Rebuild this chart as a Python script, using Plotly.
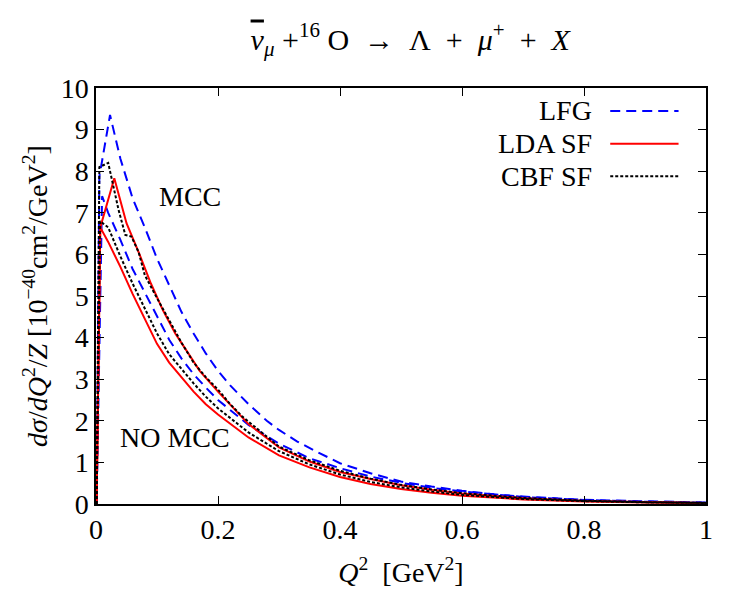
import plotly.graph_objects as go

# ---------------- data ----------------
series_names = ["LFG", "LDA SF", "CBF SF"]

# LFG (blue dashed)
lfg_mcc_x = [0.001, 0.0055, 0.023, 0.04, 0.06, 0.08, 0.10, 0.12, 0.14, 0.16, 0.18, 0.20, 0.22, 0.25,
             0.28, 0.30, 0.33, 0.36, 0.40, 0.45, 0.50, 0.55, 0.60, 0.66, 0.70, 0.80, 0.90, 1.00]
lfg_mcc_y = [0.0, 7.87, 9.35, 8.3, 7.35, 6.65, 5.9, 5.25, 4.62, 4.1, 3.62, 3.2, 2.85, 2.4,
             2.0, 1.78, 1.5, 1.27, 0.98, 0.74, 0.54, 0.42, 0.32, 0.22, 0.18, 0.10, 0.06, 0.035]

lfg_nomcc_x = [0.001, 0.01, 0.02, 0.04, 0.06, 0.08, 0.10, 0.12, 0.14, 0.16, 0.18, 0.20, 0.25, 0.30,
               0.35, 0.40, 0.45, 0.50, 0.55, 0.60, 0.70, 0.80, 0.90, 1.00]
lfg_nomcc_y = [0.0, 7.4, 7.0, 6.35, 5.65, 5.08, 4.5, 3.95, 3.5, 3.12, 2.8, 2.5, 1.9, 1.45,
               1.1, 0.86, 0.66, 0.51, 0.39, 0.30, 0.17, 0.095, 0.055, 0.03]

# LDA SF (red solid)
lda_mcc_x = [0.001, 0.007, 0.03, 0.05, 0.07, 0.09, 0.11, 0.13, 0.15, 0.17, 0.20, 0.25, 0.30,
             0.35, 0.40, 0.45, 0.50, 0.55, 0.60, 0.70, 0.80, 0.90, 1.00]
lda_mcc_y = [0.0, 6.65, 7.83, 6.75, 6.05, 5.3, 4.65, 4.1, 3.65, 3.2, 2.7, 1.92, 1.36,
             1.02, 0.77, 0.6, 0.45, 0.34, 0.25, 0.14, 0.075, 0.042, 0.022]

lda_nomcc_x = [0.001, 0.007, 0.02, 0.04, 0.06, 0.08, 0.10, 0.12, 0.14, 0.16, 0.18, 0.20, 0.25, 0.30,
               0.35, 0.40, 0.45, 0.50, 0.55, 0.60, 0.70, 0.80, 0.90, 1.00]
lda_nomcc_y = [0.0, 6.65, 6.3, 5.7, 5.05, 4.45, 3.85, 3.4, 3.05, 2.7, 2.4, 2.15, 1.6, 1.17,
               0.88, 0.65, 0.48, 0.36, 0.27, 0.20, 0.11, 0.06, 0.035, 0.02]

# CBF SF (black dotted)
cbf_mcc_x = [0.001, 0.0055, 0.02, 0.037, 0.048, 0.058, 0.07, 0.08, 0.10, 0.12, 0.14, 0.16, 0.18, 0.20,
             0.22, 0.24, 0.27, 0.30, 0.35, 0.40, 0.45, 0.50, 0.55, 0.60, 0.70, 0.80, 0.90, 1.00]
cbf_mcc_y = [0.0, 8.1, 8.2, 7.07, 6.47, 6.43, 6.05, 5.5, 4.95, 4.4, 3.88, 3.4, 3.05, 2.75,
             2.4, 2.1, 1.75, 1.38, 1.05, 0.8, 0.61, 0.46, 0.35, 0.26, 0.145, 0.08, 0.045, 0.027]

cbf_nomcc_x = [0.001, 0.0066, 0.02, 0.04, 0.06, 0.08, 0.10, 0.12, 0.14, 0.16, 0.18, 0.20, 0.25, 0.30,
               0.35, 0.40, 0.45, 0.50, 0.55, 0.60, 0.70, 0.80, 0.90, 1.00]
cbf_nomcc_y = [0.0, 6.8, 6.65, 5.95, 5.3, 4.7, 4.1, 3.6, 3.25, 2.9, 2.58, 2.3, 1.72, 1.27,
               0.95, 0.71, 0.53, 0.40, 0.30, 0.22, 0.12, 0.07, 0.04, 0.025]

x_tick_vals = [0, 0.2, 0.4, 0.6, 0.8, 1.0]
x_tick_text = ["0", "0.2", "0.4", "0.6", "0.8", "1"]
y_tick_vals = list(range(0, 11))

# ---------------- styling ----------------
FONT = "Liberation Serif, DejaVu Serif, serif"
FS = 28
styles = {
    "LFG": dict(color="#0000ff", width=2, dash="10px,6px"),
    "LDA SF": dict(color="#ff0000", width=2, dash="solid"),
    "CBF SF": dict(color="#000000", width=2, dash="3px,2px"),
}

fig = go.Figure()
curves = [
    ("LFG", lfg_mcc_x, lfg_mcc_y), ("LFG", lfg_nomcc_x, lfg_nomcc_y),
    ("LDA SF", lda_mcc_x, lda_mcc_y), ("LDA SF", lda_nomcc_x, lda_nomcc_y),
    ("CBF SF", cbf_mcc_x, cbf_mcc_y), ("CBF SF", cbf_nomcc_x, cbf_nomcc_y),
]
for name, xs, ys in curves:
    fig.add_trace(go.Scatter(x=xs, y=ys, mode="lines", name=name,
                             line=styles[name], showlegend=False))

# Custom gnuplot-style legend (text right-aligned, sample to the right)
legend_y = [0.945, 0.866, 0.788]
for name, ly in zip(series_names, legend_y):
    fig.add_annotation(xref="paper", yref="paper", x=0.817, y=ly, text=name,
                       showarrow=False, xanchor="right", yanchor="middle",
                       font=dict(family=FONT, size=FS, color="black"))
    s = styles[name]
    fig.add_shape(type="line", xref="paper", yref="paper",
                  x0=0.843, x1=0.955, y0=ly, y1=ly,
                  line=dict(color=s["color"], width=s["width"], dash=s["dash"]))

fig.add_annotation(x=0.154, y=7.38, text="MCC", showarrow=False,
                   font=dict(family=FONT, size=FS, color="black"))
fig.add_annotation(x=0.13, y=1.59, text="NO MCC", showarrow=False,
                   font=dict(family=FONT, size=FS, color="black"))

axis_common = dict(showline=True, linecolor="black", linewidth=1.5, mirror="ticks",
                   ticks="inside", ticklen=8, tickwidth=1, tickcolor="black",
                   showgrid=False, zeroline=False,
                   tickfont=dict(family=FONT, size=FS, color="black"))

sp = "&#160;"
title_text = (f'<span style="text-decoration:overline"><i>ν</i></span><sub><i>μ</i></sub>{sp}+<sup>16</sup>{sp}O{sp}{sp}→{sp}{sp}Λ{sp}{sp}+{sp}{sp}'
              f'<i>μ</i><sup>+</sup>{sp}{sp}+{sp}{sp}<i>X</i>')

fig.update_layout(
    width=750, height=600,
    margin=dict(l=96, r=44, t=88, b=96),
    paper_bgcolor="white", plot_bgcolor="white",
    title=dict(text=title_text,
               x=0.547, xanchor="center", y=0.935, yanchor="middle",
               font=dict(family=FONT, size=30, color="black")),
    xaxis=dict(range=[0, 1], tickvals=x_tick_vals, ticktext=x_tick_text,
               title=dict(text=f"<i>Q</i><sup>2</sup>{sp}{sp}[GeV<sup>2</sup>]", standoff=18,
                          font=dict(family=FONT, size=FS, color="black")),
               **axis_common),
    yaxis=dict(range=[0, 10], tickvals=y_tick_vals,
               title=dict(text="<i>dσ</i>/<i>dQ</i><sup>2</sup>/<i>Z</i> [10<sup>−40</sup>cm<sup>2</sup>/GeV<sup>2</sup>]",
                          standoff=5, font=dict(family=FONT, size=FS, color="black")),
               **axis_common),
)

fig.write_html("out.html")
